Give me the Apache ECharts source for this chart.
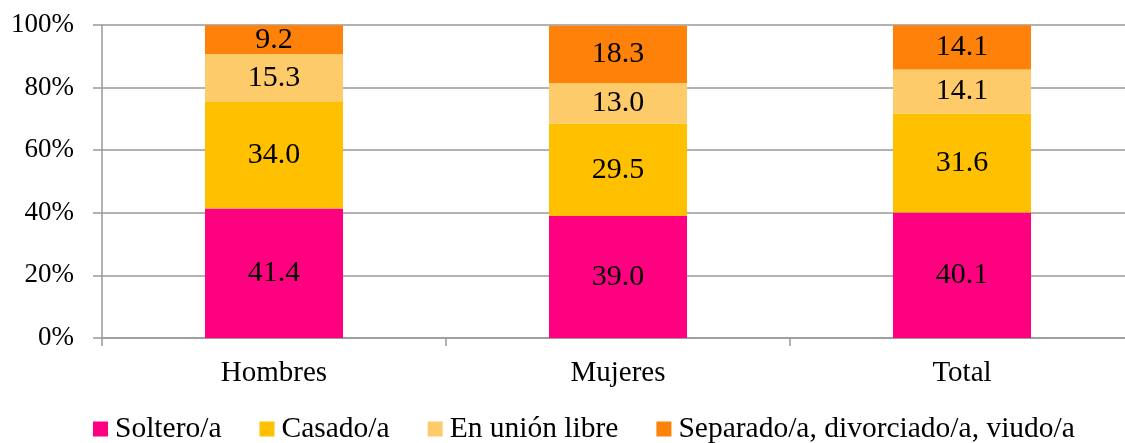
<!DOCTYPE html>
<html><head><meta charset="utf-8">
<script src="https://cdn.jsdelivr.net/npm/echarts@6/dist/echarts.min.js"></script>
<style>html,body{margin:0;padding:0;background:#fff;overflow:hidden}#c{width:1134px;height:443px}</style>
</head><body><div id="c"></div>
<script>
var categories = ['Hombres', 'Mujeres', 'Total'];
var seriesNames = ['Soltero/a', 'Casado/a', 'En unión libre', 'Separado/a, divorciado/a, viudo/a'];
var soltero = [41.4, 39.0, 40.1];
var casado = [34.0, 29.5, 31.6];
var unionLibre = [15.3, 13.0, 14.1];
var separado = [9.2, 18.3, 14.1];
var colors = ['#FF0080', '#FFC000', '#FECB6B', '#FE820A'];
var yTicks = [0, 20, 40, 60, 80, 100];

var font = '"Liberation Serif", "Times New Roman", serif';
var values = [soltero, casado, unionLibre, separado];
var chart = echarts.init(document.getElementById('c'));
chart.setOption({
  animation: false,
  textStyle: { fontFamily: font },
  grid: { left: 102, right: 0, top: 25, bottom: 105 },
  legend: {
    left: 88, top: 409, itemWidth: 15, itemHeight: 15, itemGap: 38,
    icon: 'rect',
    textStyle: { fontFamily: font, fontSize: 29.5, color: '#000', padding: [0, 0, 0, 2] },
    data: seriesNames
  },
  xAxis: {
    type: 'category', data: categories,
    axisLine: { lineStyle: { color: '#999', width: 1.5 } },
    axisTick: { show: true, length: 8, lineStyle: { color: '#999', width: 1.5 } },
    axisLabel: { fontFamily: font, fontSize: 29, color: '#000', margin: 21 }
  },
  yAxis: {
    type: 'value', min: yTicks[0], max: yTicks[yTicks.length - 1], interval: 20,
    axisLine: { show: true, lineStyle: { color: '#999', width: 1.5 } },
    axisTick: { show: true, length: 9, lineStyle: { color: '#999', width: 1.5 } },
    axisLabel: { fontFamily: font, fontSize: 27, color: '#000', margin: 28, formatter: '{value}%' },
    splitLine: { lineStyle: { color: '#999', width: 1.5 } }
  },
  series: seriesNames.map(function (n, i) {
    return {
      name: n, type: 'bar', stack: 'total', barWidth: 138,
      itemStyle: { color: colors[i] },
      label: {
        show: true, position: 'inside', color: '#000', fontFamily: font, fontSize: 30,
        formatter: function (p) { return p.value.toFixed(1); }
      },
      data: values[i]
    };
  })
});
</script></body></html>
